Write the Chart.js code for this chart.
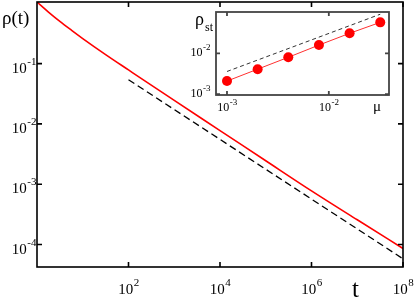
<!DOCTYPE html>
<html>
<head>
<meta charset="utf-8">
<script src="https://cdn.jsdelivr.net/npm/chart.js@4.4.1/dist/chart.umd.min.js"></script>
<style>
  body { margin: 0; background: #fff; }
  #wrap { position: relative; width: 414px; height: 298px; }
  canvas { position: absolute; }
</style>
</head>
<body>
<div id="wrap">
  <canvas id="mainChart" width="414" height="298" style="left:0;top:0"></canvas>
  <canvas id="insetChart" width="225" height="114" style="left:185px;top:0"></canvas>
</div>
<script>
// ---------- data (main: rho(t)) ----------
const tValues   = [1, 1.78, 3.16, 5.62, 10, 31.6, 100, 1e3, 1e4, 1e5, 1e6, 1e7, 1e8];
const rhoValues = [1.05, 0.716, 0.501, 0.359, 0.26, 0.141, 0.0785, 0.0245, 0.00776, 0.00245, 7.76e-4, 2.57e-4, 8.6e-5];
const guideT    = [100, 1e8];
const guideRho  = [0.054, 5.8e-5];
const xTickExps = [2, 4, 6, 8];
const yTickExps = [-1, -2, -3, -4];

// ---------- data (inset: rho_st(mu)) ----------
const muValues     = [0.001, 0.002, 0.004, 0.008, 0.016, 0.032];
const rhoStValues  = [0.0021, 0.0041, 0.008, 0.0159, 0.0308, 0.057];
const guideMu      = [0.001, 0.032];
const guideRhoSt   = [0.0036, 0.09];
const insetXExps   = [-3, -2];
const insetYExps   = [-2, -3];

const SERIF = '"Liberation Serif", "DejaVu Serif", serif';
const pts = (xs, ys) => xs.map((x, i) => ({ x, y: ys[i] }));

// draws "10" with a raised exponent
function powLabel(ctx, x, y, exp, o) {
  const e = String(exp);
  ctx.font = o.base + 'px ' + SERIF;
  const w1 = ctx.measureText('10').width;
  ctx.font = o.sup + 'px ' + SERIF;
  const w2 = ctx.measureText(e).width;
  const total = w1 + w2;
  let x0 = o.align === 'right' ? x - total : x - total / 2;
  ctx.textAlign = 'left';
  ctx.textBaseline = 'alphabetic';
  ctx.font = o.base + 'px ' + SERIF;
  ctx.fillText('10', x0, y);
  ctx.font = o.sup + 'px ' + SERIF;
  ctx.fillText(e, x0 + w1 + 0.5, y - o.rise);
}

// frame, inward ticks and labels for a log-log panel
const frameAxes = {
  id: 'frameAxes',
  afterDatasetsDraw(chart, args, opts) {
    const { ctx, chartArea: a, scales: { x, y } } = chart;
    ctx.save();
    ctx.strokeStyle = opts.color;
    ctx.lineWidth = opts.lineWidth;
    ctx.strokeRect(a.left, a.top, a.right - a.left, a.bottom - a.top);
    ctx.beginPath();
    opts.xExps.forEach(e => {
      const px = x.getPixelForValue(Math.pow(10, e));
      ctx.moveTo(px, a.bottom); ctx.lineTo(px, a.bottom - opts.tick);
      ctx.moveTo(px, a.top); ctx.lineTo(px, a.top + opts.tick);
    });
    opts.yExps.forEach(e => {
      const py = y.getPixelForValue(Math.pow(10, e));
      ctx.moveTo(a.left, py); ctx.lineTo(a.left + opts.tick, py);
      ctx.moveTo(a.right, py); ctx.lineTo(a.right - opts.tick, py);
    });
    ctx.stroke();
    ctx.fillStyle = '#000';
    opts.xExps.forEach(e => {
      const px = x.getPixelForValue(Math.pow(10, e));
      powLabel(ctx, px, a.bottom + opts.xLabelDy, e, { base: opts.base, sup: opts.sup, rise: opts.rise, align: 'center' });
    });
    opts.yExps.forEach(e => {
      const py = y.getPixelForValue(Math.pow(10, e));
      powLabel(ctx, a.left - opts.yLabelDx, py + opts.yLabelDy, e, { base: opts.base, sup: opts.sup, rise: opts.rise, align: 'right' });
    });
    if (opts.draw) opts.draw(ctx, a);
    ctx.restore();
  }
};

const hiddenLog = (min, max) => ({ type: 'logarithmic', min, max, display: false });

// ---------- main chart ----------
new Chart(document.getElementById('mainChart'), {
  type: 'scatter',
  data: {
    datasets: [
      { data: pts(tValues, rhoValues), showLine: true, borderColor: '#ff0000', borderWidth: 1.6, pointRadius: 0,
        cubicInterpolationMode: 'monotone' },
      { data: pts(guideT, guideRho), showLine: true, borderColor: '#000', borderWidth: 1.3, borderDash: [7, 4], pointRadius: 0 }
    ]
  },
  options: {
    responsive: false,
    animation: false,
    devicePixelRatio: 1,
    layout: { padding: { left: 37, top: 2, right: 11, bottom: 31 } },
    scales: { x: hiddenLog(1, 1e8), y: hiddenLog(4.24e-5, 1.05) },
    plugins: {
      legend: { display: false },
      tooltip: { enabled: false },
      frameAxes: {
        color: '#000', lineWidth: 1.6, tick: 5,
        xExps: xTickExps, yExps: yTickExps,
        base: 15, sup: 11, rise: 8,
        xLabelDy: 27, yLabelDx: 1, yLabelDy: 9,
        draw(ctx, a) {
          ctx.font = '19px ' + SERIF;
          ctx.textAlign = 'left';
          ctx.fillText('\u03c1(t)', 2, 24);
          ctx.font = '25px ' + SERIF;
          ctx.fillText('t', 352, 297);
        }
      }
    }
  },
  plugins: [frameAxes]
});

// ---------- inset chart ----------
new Chart(document.getElementById('insetChart'), {
  type: 'scatter',
  data: {
    datasets: [
      { data: pts(muValues, rhoStValues), showLine: true, borderColor: '#ff3030', borderWidth: 1, pointRadius: 5,
        pointBackgroundColor: '#ff0000', pointBorderWidth: 0 },
      { data: pts(guideMu, guideRhoSt), showLine: true, borderColor: '#333', borderWidth: 1, borderDash: [4, 3], pointRadius: 0 }
    ]
  },
  options: {
    responsive: false,
    animation: false,
    devicePixelRatio: 1,
    layout: { padding: { left: 31, top: 12, right: 21, bottom: 19 } },
    scales: { x: hiddenLog(7.8e-4, 0.039), y: hiddenLog(9.6e-4, 0.102) },
    plugins: {
      legend: { display: false },
      tooltip: { enabled: false },
      frameAxes: {
        color: '#444', lineWidth: 1.8, tick: 4,
        xExps: insetXExps, yExps: insetYExps,
        base: 12, sup: 9, rise: 6,
        xLabelDy: 16, yLabelDx: 6, yLabelDy: 3,
        draw(ctx, a) {
          ctx.fillStyle = '#000';
          ctx.textAlign = 'left';
          ctx.font = '18px ' + SERIF;
          ctx.fillText('\u03c1', 10, 25);
          ctx.font = '12px ' + SERIF;
          ctx.fillText('st', 20, 31);
          ctx.font = '15px ' + SERIF;
          ctx.fillText('\u03bc', 188, 111);
        }
      }
    }
  },
  plugins: [frameAxes]
});
</script>
</body>
</html>
